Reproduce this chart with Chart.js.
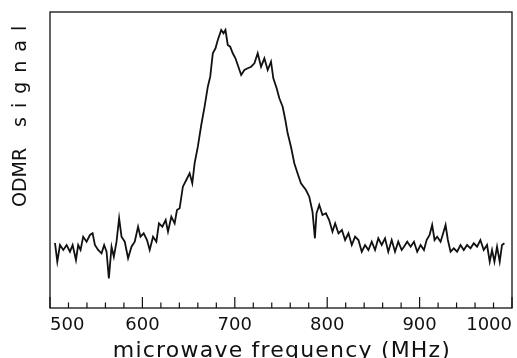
<!DOCTYPE html>
<html lang="en">
<head>
  <meta charset="UTF-8">
  <title>ODMR signal</title>
  <script src="https://cdn.jsdelivr.net/npm/chart.js"></script>
  <style>
    body { margin: 0; padding: 0; background: #fff; }
    canvas { display: block; }
  </style>
</head>
<body>
  <canvas id="odmrChart" width="517" height="358"></canvas>

  <script>
    // Frequency (MHz) and ODMR signal (arb. units)
    const freq = [505.4, 507.9, 510.8, 514.4, 518.0, 521.6, 524.5, 528.1, 530.5, 533.1,
      535.9, 539.6, 543.2, 546.1, 548.6, 552.1, 555.8, 558.6, 561.2, 563.7,
      566.6, 569.1, 572.0, 574.8, 577.4, 580.9, 584.5, 588.2, 591.7, 595.3,
      597.9, 601.4, 605.0, 607.9, 611.5, 615.1, 617.9, 621.6, 625.2, 627.7,
      631.3, 634.9, 637.4, 640.3, 643.8, 647.5, 651.1, 654.0, 656.5, 660.0,
      663.7, 667.3, 670.8, 673.4, 676.2, 679.1, 681.6, 685.3, 687.8, 689.9,
      692.4, 695.0, 697.8, 700.7, 703.2, 706.9, 710.4, 714.0, 717.7, 721.2,
      724.8, 728.4, 732.0, 735.6, 739.2, 741.7, 745.3, 748.2, 751.8, 754.7,
      757.2, 760.8, 764.4, 767.9, 771.6, 777.0, 780.6, 784.1, 786.7, 788.4,
      791.4, 794.9, 798.6, 802.1, 805.7, 808.6, 812.2, 815.9, 819.4, 823.0,
      826.6, 830.2, 833.8, 837.4, 841.0, 844.6, 848.2, 851.8, 855.3, 859.0,
      862.6, 866.1, 869.8, 873.4, 876.9, 880.6, 883.1, 886.6, 890.3, 893.9,
      897.4, 901.1, 904.7, 907.6, 910.8, 913.6, 916.2, 919.0, 922.7, 925.5,
      928.1, 930.6, 933.5, 937.0, 940.6, 944.3, 947.8, 951.4, 955.1, 958.6,
      962.2, 965.8, 969.4, 973.0, 975.9, 978.4, 981.0, 983.8, 986.7, 989.2, 991.8];

    const signal = [65, 46.3, 63, 58, 63, 56.3, 63, 48, 63, 58,
      71.3, 66.3, 73, 74.7, 63, 58, 54.7, 63, 56.3, 29.7,
      61.3, 51.3, 66.3, 89.7, 71.3, 66.3, 49.7, 61.3, 66.3, 81.3,
      71.3, 74.7, 68, 58, 71.3, 66.3, 84.7, 81.3, 88, 76.3,
      91.3, 84.7, 98, 99.7, 121.3, 128, 134.7, 124.7, 144.7, 161.3,
      183, 201.3, 221.3, 231.3, 254.7, 259.7, 268, 278, 274.7, 278,
      263, 261.3, 254.7, 249.7, 243, 233, 238, 239.7, 241.3, 244.7,
      254.7, 241.3, 249.7, 238, 246.3, 229.7, 219.7, 209.7, 201.3, 188,
      174.7, 161.3, 144.7, 134.7, 124.7, 118, 111.3, 96.3, 69.7, 94.7,
      103, 93, 94.7, 88, 76.3, 84.7, 74.7, 78, 68, 74.7,
      63, 71.3, 68, 56.3, 63, 58, 66.3, 58, 69.7, 63,
      69.7, 56.3, 68, 56.3, 66.3, 58, 61.3, 66.3, 61.3, 66.3,
      56.3, 63, 58, 68, 73, 83, 68, 71.3, 66.3, 74.7,
      83, 68, 56.3, 59.7, 56.3, 63, 58, 63, 59.7, 64.7,
      61.3, 68, 58, 63, 46.3, 58, 46.3, 61.3, 46.3, 63, 64.7];

    // Axis ticks
    const majorTicks = [500, 600, 700, 800, 900, 1000];
    const minorTicks = [520, 540, 560, 580, 620, 640, 660, 680, 720, 740, 760, 780,
      820, 840, 860, 880, 920, 940, 960, 980];

    const xTitle = 'microwave frequency (MHz)';
    const yTitleWords = ['ODMR', 'signal'];

    const ink = '#111';
    const font = 'DejaVu Sans';

    // frame, inward ticks and axis titles
    const framePlugin = {
      id: 'frame',
      afterDraw(chart) {
        const ctx = chart.ctx;
        const a = chart.chartArea;
        const xs = chart.scales.x;
        ctx.save();
        ctx.strokeStyle = ink;
        ctx.lineWidth = 1.3;
        ctx.strokeRect(a.left, a.top, a.right - a.left, a.bottom - a.top);

        ctx.lineWidth = 1.2;
        ctx.beginPath();
        majorTicks.forEach(v => {
          const px = xs.getPixelForValue(v);
          ctx.moveTo(px, a.bottom);
          ctx.lineTo(px, a.bottom - 11);
        });
        minorTicks.forEach(v => {
          const px = xs.getPixelForValue(v);
          ctx.moveTo(px, a.bottom);
          ctx.lineTo(px, a.bottom - 5.5);
        });
        ctx.stroke();

        ctx.fillStyle = ink;
        ctx.textBaseline = 'alphabetic';

        // x title
        ctx.font = '22px "' + font + '"';
        ctx.letterSpacing = '1.2px';
        ctx.textAlign = 'center';
        ctx.fillText(xTitle, (a.left + a.right) / 2 + 1, 357);

        // y title, reading upward
        ctx.font = '19px "' + font + '"';
        ctx.textAlign = 'left';
        ctx.translate(26, 207);
        ctx.rotate(-Math.PI / 2);
        ctx.letterSpacing = '0px';
        ctx.fillText(yTitleWords[0], 0, 0);
        ctx.letterSpacing = '9px';
        ctx.fillText(yTitleWords[1], 80, 0);
        ctx.restore();
      }
    };

    const ctx = document.getElementById('odmrChart').getContext('2d');

    const odmrChart = new Chart(ctx, {
      type: 'line',
      data: {
        datasets: [{
          label: 'ODMR signal',
          data: freq.map((f, i) => ({ x: f, y: signal[i] })),
          borderColor: ink,
          borderWidth: 1.8,
          pointRadius: 0,
          tension: 0,
          fill: false
        }]
      },
      options: {
        responsive: false,
        animation: false,
        devicePixelRatio: 1,
        layout: { padding: { left: 0, right: 5, top: 12, bottom: 0 } },
        plugins: {
          legend: { display: false },
          tooltip: { enabled: false }
        },
        scales: {
          x: {
            type: 'linear',
            min: 500,
            max: 1000,
            afterFit: s => { s.height = 50; },
            grid: { display: false, drawTicks: false },
            border: { display: false },
            ticks: {
              stepSize: 100,
              align: 'inner',
              padding: 5,
              autoSkip: false,
              maxRotation: 0,
              color: ink,
              font: { family: font, size: 18, lineHeight: 1.42 },
              callback: v => String(v)
            }
          },
          y: {
            min: 0,
            max: 296,
            afterFit: s => { s.width = 50; },
            grid: { display: false },
            border: { display: false },
            ticks: { display: false }
          }
        }
      },
      plugins: [framePlugin]
    });
  </script>
</body>
</html>
